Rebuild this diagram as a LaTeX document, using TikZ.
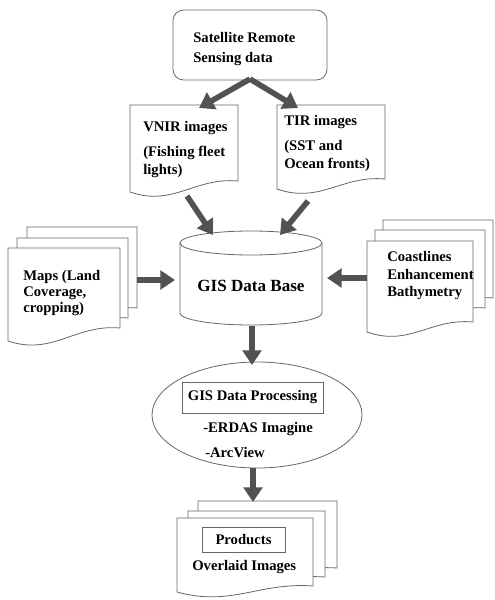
\documentclass[tikz,border=0pt]{standalone}
\usepackage{fontspec}
\setmainfont{Liberation Serif}
\usetikzlibrary{arrows.meta,shapes.geometric}

\tikzset{
  outline/.style={draw=black!60, line width=0.6pt, fill=white},
  flow/.style={draw=black!68, line width=4.2pt,
               -{Triangle[width=14pt,length=11pt]}},
  lbl/.style={font=\bfseries\fontsize{11}{13}\selectfont, inner sep=0pt, anchor=base west},
  bigtitle/.style={font=\bfseries\fontsize{12.8}{15}\selectfont, inner sep=0pt},
  framed/.style={draw=black!60, line width=0.6pt, inner sep=0pt,
                 font=\bfseries\fontsize{11}{13}\selectfont},
}

% a sheet with a wavy lower edge: left, top, right, lower right end, lower left end
\newcommand\docsheet[5]{%
  \draw[outline] (#1,#5) -- (#1,#2) -- (#3,#2) -- (#3,#4)
    .. controls ({#3-0.4*(#3-#1)},{#4-4}) and ({#1+0.4*(#3-#1)},{#5+15}) .. (#1,#5) -- cycle;
}

\begin{document}
\begin{tikzpicture}[x=0.75pt,y=-0.75pt]
  \useasboundingbox[fill=white] (0,0) rectangle (494,600);

  % source data
  \node[outline, rounded corners=8pt, minimum width=115.5pt, minimum height=52.5pt] (sat) at (250,45) {};
  \node[lbl] (satA) at (193,42) {Satellite Remote};
  \node[lbl] (satB) at (193,62) {Sensing data};

  % VNIR and TIR sheets
  \docsheet{130}{105}{238}{181}{192}
  \node[lbl] (vnirA) at (143,131) {VNIR images};
  \node[lbl] (vnirB) at (143,156) {(Fishing fleet};
  \node[lbl] (vnirC) at (143,174) {lights)};

  \docsheet{277}{105}{385}{179}{189}
  \node[lbl] (tirA) at (284,125) {TIR images};
  \node[lbl] (tirB) at (284,150) {(SST and};
  \node[lbl] (tirC) at (284,168) {Ocean fronts)};

  % map stack
  \docsheet{27}{227}{137}{308}{321}
  \docsheet{17}{238}{128}{318}{331}
  \docsheet{8}{248}{120}{328}{341}
  \node[lbl] (mapA) at (23,280) {Maps (Land};
  \node[lbl] (mapB) at (23,296) {Coverage,};
  \node[lbl] (mapC) at (23,312) {cropping)};

  % coastline stack
  \docsheet{383}{220}{493}{298}{310}
  \docsheet{375}{230}{485}{308}{320}
  \docsheet{367}{241}{473}{322}{332}
  \node[lbl] (coastA) at (387,261) {Coastlines};
  \node[lbl] (coastB) at (387,279) {Enhancement};
  \node[lbl] (coastC) at (387,296) {Bathymetry};

  % database cylinder
  \draw[outline] (180,243) -- (180,313)
    arc[start angle=180,end angle=360,x radius=53.25pt,y radius=9pt]
    -- (322,243)
    arc[start angle=0,end angle=180,x radius=53.25pt,y radius=9pt] -- cycle;
  \draw[outline, fill=none] (180,243)
    arc[start angle=180,end angle=360,x radius=53.25pt,y radius=9pt];
  \node[bigtitle] (db) at (251,286) {GIS Data Base};

  % processing
  \node[outline, ellipse, minimum width=157.5pt, minimum height=79.5pt] (proc) at (257,415) {};
  \node[framed, minimum width=105.75pt, minimum height=23.25pt] (procT) at (252.5,397.5) {GIS Data Processing};
  \node[lbl] (erdas) at (203,432) {-ERDAS Imagine};
  \node[lbl] (arcv) at (205,457) {-ArcView};

  % product stack
  \docsheet{198}{501}{337}{568}{579}
  \docsheet{188}{511}{325}{577}{587}
  \docsheet{177}{518}{313}{586}{592}
  \node[framed, minimum width=62.25pt, minimum height=18.75pt] (prodT) at (243.5,539.5) {Products};
  \node[lbl] (overl) at (192,570) {Overlaid Images};

  % arrow end points
  \coordinate (satOut) at (250,79);
  \coordinate (vnirIn) at (199,108);
  \coordinate (tirIn) at (298,108);
  \coordinate (vnirOut) at (187,196);
  \coordinate (tirOut) at (308,201);
  \coordinate (dbInL) at (213,235);
  \coordinate (dbInR) at (280,235);
  \coordinate (mapOut) at (137,280);
  \coordinate (dbW) at (175,280);
  \coordinate (coastOut) at (367,278);
  \coordinate (dbE) at (327,278);
  \coordinate (dbOut) at (252,326);
  \coordinate (procIn) at (252,365);
  \coordinate (procOut) at (253,468);
  \coordinate (prodIn) at (253,502);

  % connectors
  \draw[flow] (satOut) -- (vnirIn);
  \draw[flow] (satOut) -- (tirIn);
  \draw[flow] (vnirOut) -- (dbInL);
  \draw[flow] (tirOut) -- (dbInR);
  \draw[flow] (mapOut) -- (dbW);
  \draw[flow] (coastOut) -- (dbE);
  \draw[flow] (dbOut) -- (procIn);
  \draw[flow] (procOut) -- (prodIn);
\end{tikzpicture}
\end{document}
